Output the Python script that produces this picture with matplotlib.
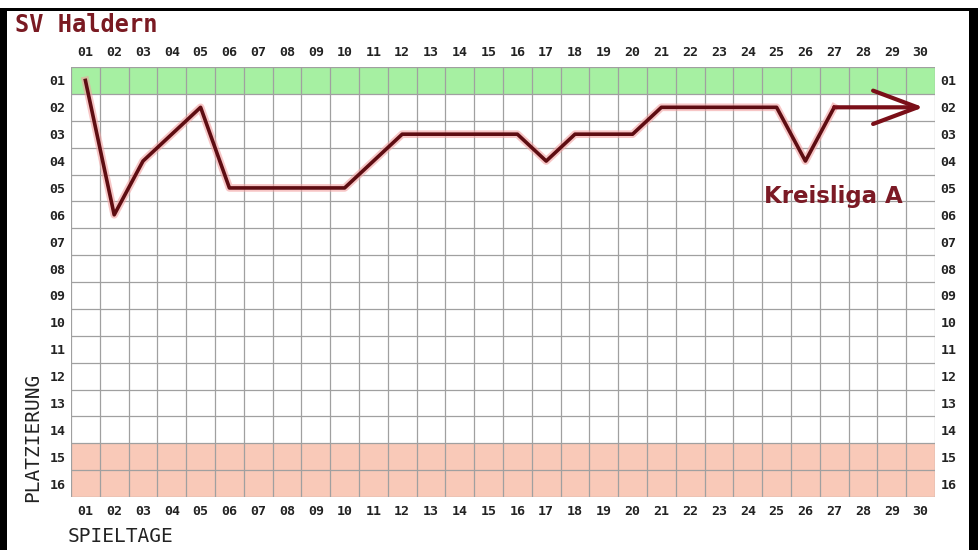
import matplotlib
matplotlib.use("Agg")
import matplotlib.pyplot as plt
from matplotlib.patches import Rectangle
import numpy as np

# ---- data ----
spieltage = list(range(1, 31))
x_labels = [f"{i:02d}" for i in spieltage]
plaetze = list(range(1, 17))
y_labels = [f"{i:02d}" for i in plaetze]
played = list(range(1, 28))
platzierung = [1, 6, 4, 3, 2, 5, 5, 5, 5, 5, 4, 3, 3, 3, 3, 3, 4, 3, 3, 3,
               2, 2, 2, 2, 2, 4, 2]
aufstieg_rows = [1]
abstieg_rows = [15, 16]
title = "SV Haldern"
league = "Kreisliga A"
arrow_to = 30.1

W, H = 979, 550
fig = plt.figure(figsize=(W / 100, H / 100), dpi=100, facecolor="white")

def px(x0, y0, x1, y1):
    return [x0 / W, 1 - y1 / H, (x1 - x0) / W, (y1 - y0) / H]

ax = fig.add_axes(px(71, 67, 935, 497))
ax.set_xlim(0.5, 30.5)
ax.set_ylim(16.5, 0.5)

# bands
for r in aufstieg_rows:
    ax.axhspan(r - 0.5, r + 0.5, color="#a6f0a2", zorder=0, lw=0)
for r in abstieg_rows:
    ax.axhspan(r - 0.5, r + 0.5, color="#f9c9b8", zorder=0, lw=0)

# grid at boundaries
ax.set_xticks(np.arange(0.5, 31, 1), minor=True)
ax.set_yticks(np.arange(0.5, 17, 1), minor=True)
ax.grid(which="minor", color="#a0a0a0", lw=0.9, zorder=1)
ax.tick_params(which="minor", length=0)

ax.set_xticks(spieltage)
ax.set_xticklabels(x_labels)
ax.set_yticks(plaetze)
ax.set_yticklabels(y_labels)
ax.tick_params(which="major", length=0, labeltop=True, labelright=True,
               labelsize=9.5, colors="#222222")
ax.tick_params(axis="x", which="major", pad=6)
ax.tick_params(axis="y", which="major", pad=4)
for t in (ax.xaxis.get_majorticklabels() + ax.yaxis.get_majorticklabels()):
    t.set_family("DejaVu Sans Mono"); t.set_weight("bold")
for spine in ax.spines.values():
    spine.set_visible(False)
ax.set_facecolor("white")

# line with glow
ax.plot(played, platzierung, color="#f2a0a0", lw=5.5, alpha=0.6, zorder=3)
ax.plot(played, platzierung, color="#5e0d12", lw=2.6, zorder=4)
ax.annotate("", xy=(arrow_to, platzierung[-1]), xytext=(played[-1], platzierung[-1]),
            arrowprops=dict(arrowstyle="->,head_length=1.6,head_width=0.6",
                            lw=3.0, color="#7a0f18", mutation_scale=20,
                            shrinkA=0, shrinkB=0), zorder=5)

ax.text(833 / 979, 1 - 197 / 550, league, transform=fig.transFigure,
        ha="center", va="center", fontsize=16.5, fontweight="bold",
        color="#7b1a25", family="DejaVu Sans")

fig.text(15 / W, 1 - 25 / H, title, ha="left", va="center", fontsize=17,
         fontweight="bold", color="#7a1a22", family="DejaVu Sans Mono")
fig.text(33 / W, 1 - 437 / H, "PLATZIERUNG", rotation=90, ha="center",
         va="center", fontsize=14, color="#222222", family="DejaVu Sans Mono")
fig.text(68 / W, 1 - 536 / H, "SPIELTAGE", ha="left", va="center",
         fontsize=14, color="#222222", family="DejaVu Sans Mono")

# frame
fig.add_artist(Rectangle((0, 1 - 11 / H), 1, 3 / H, transform=fig.transFigure,
                         color="black", lw=0))
fig.add_artist(Rectangle((0, 0), 7 / W, 1 - 8 / H, transform=fig.transFigure,
                         color="black", lw=0))
fig.add_artist(Rectangle((969 / W, 0), 10 / W, 1 - 8 / H, transform=fig.transFigure,
                         color="black", lw=0))

fig.savefig("out.png", dpi=100, facecolor="white")
